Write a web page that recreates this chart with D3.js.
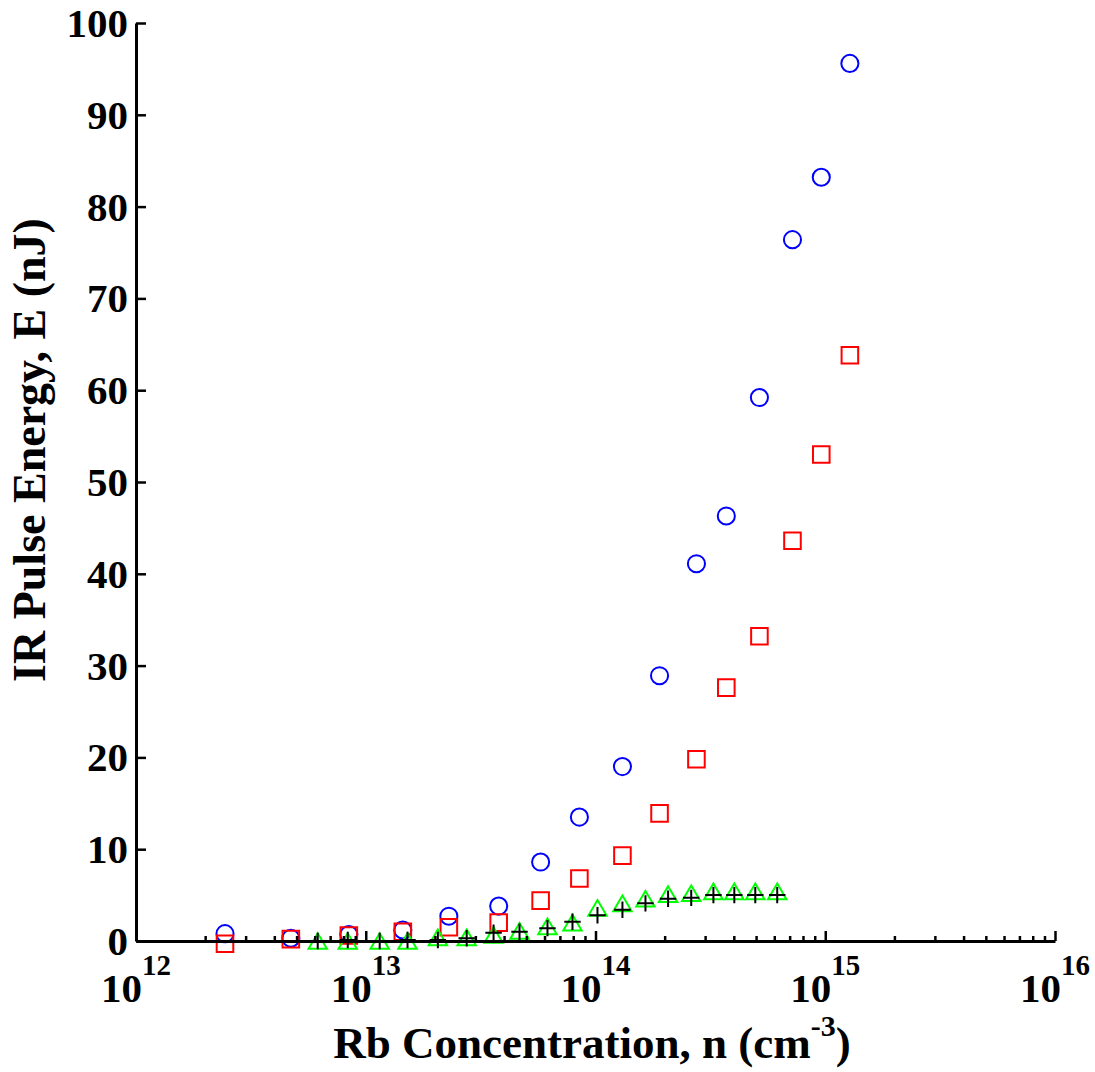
<!DOCTYPE html>
<html>
<head>
<meta charset="utf-8">
<script src="https://cdn.jsdelivr.net/npm/d3@7"></script>
<style>
  html, body { margin: 0; padding: 0; background: #fff; }
  svg text { font-family: "Liberation Serif", "Times New Roman", serif; font-weight: bold; fill: #000; }
</style>
</head>
<body>
<svg id="chart" width="1095" height="1072"></svg>
<script>
// ── Data ──────────────────────────────────────────────────────────────────
// Rb concentration (cm^-3) for the circle / square series
const densA = [2.44e12, 4.72e12, 8.44e12, 1.45e13, 2.30e13, 3.79e13, 5.77e13, 8.51e13,
               1.31e14, 1.90e14, 2.75e14, 3.71e14, 5.17e14, 7.20e14, 9.61e14, 1.28e15];
const energyCircle = [0.8, 0.3, 0.7, 1.2, 2.7, 3.8, 8.6, 13.5,
                      19.0, 28.9, 41.1, 46.3, 59.2, 76.4, 83.2, 95.6];
const energySquare = [-0.3, 0.2, 0.6, 1.0, 1.5, 2.0, 4.4, 6.8,
                      9.3, 13.9, 19.8, 27.6, 33.2, 43.6, 53.0, 63.8];

// Rb concentration for the triangle / plus series
const densB = [6.18e12, 8.35e12, 1.15e13, 1.52e13, 2.06e13, 2.75e13, 3.60e13, 4.67e13, 6.18e13,
               7.94e13, 1.02e14, 1.31e14, 1.65e14, 2.07e14, 2.61e14, 3.26e14, 4.02e14, 4.96e14, 6.18e14];
const energyTriangle = [0.0, 0.0, 0.0, 0.0, 0.4, 0.4, 0.65, 1.1, 1.6,
                        2.0, 3.6, 4.1, 4.6, 5.1, 5.2, 5.4, 5.4, 5.4, 5.4];
const energyPlus = [0.0, 0.1, 0.0, 0.1, 0.1, 0.3, 0.9, 1.0, 1.4,
                    2.1, 2.8, 3.4, 4.1, 4.6, 4.7, 5.0, 5.0, 5.0, 5.0];

const xDecades = [12, 13, 14, 15, 16];
const yTicks = [0, 10, 20, 30, 40, 50, 60, 70, 80, 90, 100];

// ── Layout ────────────────────────────────────────────────────────────────
const svg = d3.select('#chart');
const X0 = 136, X1 = 1055, Y0 = 941, Y1 = 23;

const x = d3.scaleLog().domain([1e12, 1e16]).range([X0, X1]);
const y = d3.scaleLinear().domain([0, 100]).range([Y0, Y1]);

// custom marker shapes (MATLAB-like, centred on bounding box)
const triUp = {
  draw(ctx, size) {
    const w = Math.sqrt(size), h = w * 0.85;
    ctx.moveTo(0, -h / 2);
    ctx.lineTo(w / 2, h / 2);
    ctx.lineTo(-w / 2, h / 2);
    ctx.closePath();
  }
};
const plus = {
  draw(ctx, size) {
    const r = Math.sqrt(size) / 2;
    ctx.moveTo(-r, 0); ctx.lineTo(r, 0);
    ctx.moveTo(0, -r); ctx.lineTo(0, r);
  }
};

const series = [
  { xs: densA, ys: energyCircle,   type: d3.symbolCircle, size: 230, color: '#0000ff' },
  { xs: densA, ys: energySquare,   type: d3.symbolSquare, size: 275, color: '#ff0000' },
  { xs: densB, ys: energyTriangle, type: triUp,           size: 340, color: '#00ff00' },
  { xs: densB, ys: energyPlus,     type: plus,            size: 270, color: '#000000' },
];

const marks = svg.append('g');
series.forEach(s => {
  const sym = d3.symbol().type(s.type).size(s.size);
  marks.append('g').selectAll('path')
    .data(s.xs.map((v, i) => [v, s.ys[i]]))
    .join('path')
    .attr('transform', d => `translate(${x(d[0])},${y(d[1])})`)
    .attr('d', sym)
    .attr('fill', 'none')
    .attr('stroke', s.color)
    .attr('stroke-width', 2);
});

// ── Axes ─────────────────────────────────────────────────────────────────
const xMajor = xDecades.map(e => Math.pow(10, e));
const xMinor = x.ticks().filter(t => !xMajor.some(m => Math.abs(m - t) / m < 1e-6));

const gx = svg.append('g').attr('transform', `translate(0,${Y0})`);
gx.append('g')
  .call(d3.axisBottom(x).tickValues(xMinor).tickSizeInner(-5).tickSizeOuter(0).tickFormat(''))
  .call(g => g.select('.domain').remove())
  .call(g => g.selectAll('line').attr('stroke', '#000').attr('stroke-width', 2.5));
gx.append('g')
  .call(d3.axisBottom(x).tickValues(xMajor).tickSizeInner(-10).tickSizeOuter(0).tickFormat(''))
  .call(g => g.select('.domain').attr('stroke', '#000').attr('stroke-width', 3))
  .call(g => g.selectAll('line').attr('stroke', '#000').attr('stroke-width', 2.5));

// x tick labels: 10 with superscript exponent
xDecades.forEach(e => {
  const t = svg.append('text')
    .attr('x', x(Math.pow(10, e)))
    .attr('y', 1002)
    .attr('text-anchor', 'middle')
    .attr('font-size', 41);
  t.append('tspan').text('10');
  t.append('tspan').attr('dy', -27).attr('font-size', 29).text(e);
});

const gy = svg.append('g').attr('transform', `translate(${X0},0)`);
gy.call(d3.axisLeft(y).tickValues(yTicks).tickSizeInner(-10).tickSizeOuter(0).tickFormat(''))
  .call(g => g.select('.domain').attr('stroke', '#000').attr('stroke-width', 3))
  .call(g => g.selectAll('line').attr('stroke', '#000').attr('stroke-width', 2.5));

svg.append('g').selectAll('text')
  .data(yTicks)
  .join('text')
  .attr('x', 128)
  .attr('y', d => y(d) + 14)
  .attr('text-anchor', 'end')
  .attr('font-size', 41)
  .text(d => d);

// ── Axis titles ──────────────────────────────────────────────────────────
const xt = svg.append('text')
  .attr('x', 592).attr('y', 1058)
  .attr('text-anchor', 'middle')
  .attr('font-size', 45);
xt.append('tspan').text('Rb Concentration, n (cm');
xt.append('tspan').attr('dy', -22).attr('font-size', 30).text('-3');
xt.append('tspan').attr('dy', 22).text(')');

svg.append('text')
  .attr('transform', 'translate(45,450) rotate(-90)')
  .attr('text-anchor', 'middle')
  .attr('font-size', 46)
  .text('IR Pulse Energy, E (nJ)');
</script>
</body>
</html>
